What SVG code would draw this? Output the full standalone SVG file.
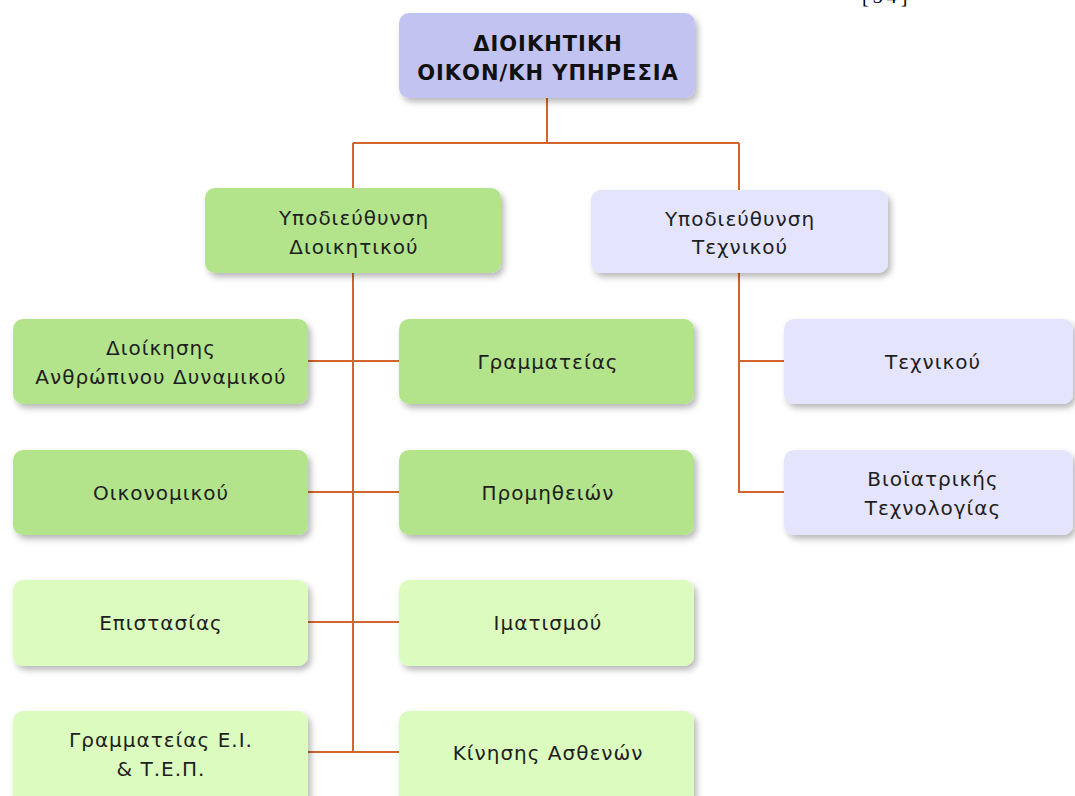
<svg xmlns="http://www.w3.org/2000/svg" width="1075" height="796" viewBox="0 0 1075 796">
  <defs>
    <filter id="shadow" x="-10%" y="-20%" width="125%" height="150%">
      <feDropShadow dx="3" dy="4" stdDeviation="3" flood-color="#000" flood-opacity="0.28"/>
    </filter>
  </defs>
  <style>
    .box { filter: url(#shadow); }
    .head { fill: #c3c3f2; }
    .dark { fill: #b3e48b; }
    .light { fill: #dcfbbf; }
    .lav { fill: #e4e4fd; }
    text { font-family: "DejaVu Sans", Verdana, sans-serif; font-size: 20px; letter-spacing: 1px; fill: #1e1e1e; text-anchor: middle; }
    .title { font-weight: bold; font-size: 21px; fill: #111; }
    .ref { font-family: "Liberation Serif", serif; font-size: 20px; text-anchor: start; letter-spacing: 4px; fill: #000; }
    .conn { fill: none; stroke: #d3642e; stroke-width: 2; }
  </style>

  <rect width="1075" height="796" fill="#ffffff"/>

  <text class="ref" x="862" y="3">[34]</text>

  <!-- connectors -->
  <g id="connectors" class="conn">
    <path d="M547 98 V143 M353 143 H739 M353 143 V188 M739 143 V190"/>
    <path d="M353 273 V752"/>
    <path d="M308 361 H399 M308 492 H399 M308 622 H399 M308 752 H399"/>
    <path d="M739 273 V492 H784 M739 361 H784"/>
  </g>

  <g id="n-root">
    <rect class="box head" x="399" y="13" width="296" height="85" rx="10"/>
    <text class="title" x="548" y="51">ΔΙΟΙΚΗΤΙΚΗ</text>
    <text class="title" x="548" y="80">ΟΙΚΟΝ/ΚΗ ΥΠΗΡΕΣΙΑ</text>
  </g>

  <g id="n-admin">
    <rect class="box dark" x="205" y="188" width="296" height="85" rx="10"/>
    <text x="354" y="225">Υποδιεύθυνση</text>
    <text x="354" y="254">Διοικητικού</text>
  </g>

  <g id="n-tech-dir">
    <rect class="box lav" x="591" y="190" width="297" height="83" rx="10"/>
    <text x="740" y="226">Υποδιεύθυνση</text>
    <text x="740" y="254">Τεχνικού</text>
  </g>

  <g id="n-hr">
    <rect class="box dark" x="13" y="319" width="295" height="85" rx="10"/>
    <text x="161" y="355">Διοίκησης</text>
    <text x="161" y="384">Ανθρώπινου Δυναμικού</text>
  </g>

  <g id="n-secretariat">
    <rect class="box dark" x="399" y="319" width="295" height="85" rx="10"/>
    <text x="548" y="369">Γραμματείας</text>
  </g>

  <g id="n-technical">
    <rect class="box lav" x="784" y="319" width="289" height="85" rx="10"/>
    <text x="933" y="369">Τεχνικού</text>
  </g>

  <g id="n-finance">
    <rect class="box dark" x="13" y="450" width="295" height="85" rx="10"/>
    <text x="161" y="500">Οικονομικού</text>
  </g>

  <g id="n-supplies">
    <rect class="box dark" x="399" y="450" width="295" height="85" rx="10"/>
    <text x="548" y="500">Προμηθειών</text>
  </g>

  <g id="n-biomed">
    <rect class="box lav" x="784" y="450" width="289" height="85" rx="10"/>
    <text x="933" y="486">Βιοϊατρικής</text>
    <text x="933" y="515">Τεχνολογίας</text>
  </g>

  <g id="n-housekeeping">
    <rect class="box light" x="13" y="580" width="295" height="86" rx="10"/>
    <text x="161" y="630">Επιστασίας</text>
  </g>

  <g id="n-linen">
    <rect class="box light" x="399" y="580" width="295" height="86" rx="10"/>
    <text x="548" y="630">Ιματισμού</text>
  </g>

  <g id="n-er-secretariat">
    <rect class="box light" x="13" y="711" width="295" height="95" rx="10"/>
    <text x="161" y="747">Γραμματείας Ε.Ι.</text>
    <text x="161" y="776">&amp; Τ.Ε.Π.</text>
  </g>

  <g id="n-patient-move">
    <rect class="box light" x="399" y="711" width="295" height="95" rx="10"/>
    <text x="548" y="760">Κίνησης Ασθενών</text>
  </g>
</svg>
